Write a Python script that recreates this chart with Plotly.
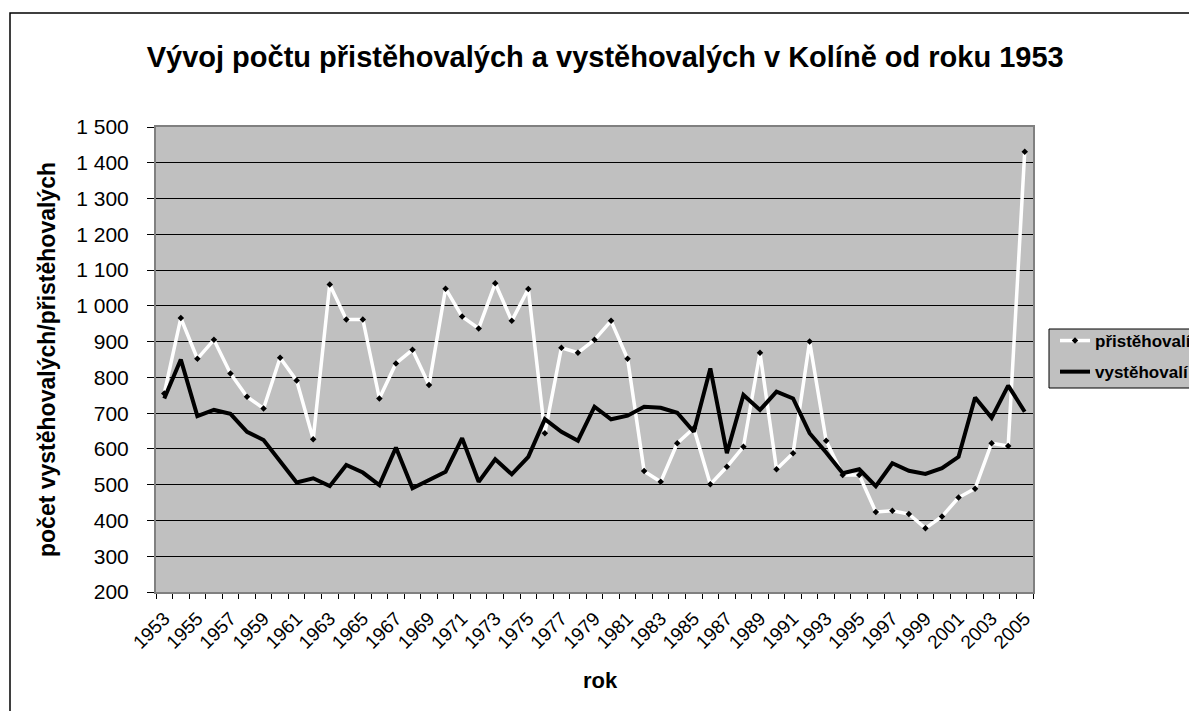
import plotly.graph_objects as go

years = [str(y) for y in range(1953, 2006)]
pristehovali = [755, 966, 852, 905, 811, 746, 713, 855, 791, 627,
                1060, 962, 962, 741, 839, 877, 779, 1048, 970, 937,
                1063, 958, 1047, 644, 883, 869, 905, 958, 852, 538,
                508, 616, 658, 501, 550, 606, 869, 543, 588, 900,
                623, 527, 527, 424, 427, 418, 378, 411, 464, 489,
                616, 608, 1431]
vystehovali = [741, 850, 692, 709, 698, 648, 625, 564, 506, 518,
               496, 555, 534, 499, 604, 490, 513, 536, 630, 508,
               571, 529, 578, 683, 648, 623, 718, 683, 693, 718,
               715, 701, 648, 825, 588, 751, 709, 760, 741, 644,
               590, 532, 543, 496, 560, 539, 530, 546, 578, 744,
               687, 777, 704]
y_ticks = list(range(200, 1600, 100))
y_ticktext = [f"{v:,}".replace(",", " ") for v in y_ticks]
x_ticktext = [y if (int(y) - 1953) % 2 == 0 else "" for y in years]

FONT = "Liberation Sans, Arial, sans-serif"

fig = go.Figure()
fig.add_trace(go.Scatter(
    x=years, y=pristehovali, name="přistěhovalí", mode="lines+markers",
    legendgroup="a",
    line=dict(color="white", width=3.5),
    marker=dict(symbol="diamond", size=5, color="black"),
))
fig.add_trace(go.Scatter(
    x=years, y=vystehovali, name="vystěhovalí", mode="lines",
    legendgroup="b",
    line=dict(color="black", width=4),
))

L, R, T, B = 156, 1189 - 1033, 127, 711 - 592
W, H = 1189 - L - R, 711 - T - B

def px(xp):
    return (xp - L) / W

def py(yp):
    return (711 - B - yp) / H

fig.update_layout(
    width=1189, height=711,
    margin=dict(l=L, r=R, t=T, b=B, autoexpand=False),
    paper_bgcolor="white",
    plot_bgcolor="#C0C0C0",
    font=dict(family=FONT, color="black"),
    title=dict(
        text="<b>Vývoj počtu přistěhovalých a vystěhovalých v Kolíně od roku 1953</b>",
        x=0.509, xref="container", xanchor="center",
        y=1 - 57 / 711, yref="container", yanchor="middle",
        font=dict(size=29, family=FONT, color="black"),
    ),
    showlegend=True,
    legend=dict(
        x=px(1055), y=py(323), xanchor="left", yanchor="top",
        bgcolor="rgba(0,0,0,0)", borderwidth=0,
        font=dict(size=17, family=FONT, color="black", weight="bold"),
        tracegroupgap=6,
    ),
    xaxis=dict(
        type="category",
        tickmode="array", tickvals=years, ticktext=x_ticktext,
        tickangle=-45, tickson="boundaries",
        ticks="outside", ticklen=5, tickcolor="black",
        tickfont=dict(size=19, family=FONT, color="black"),
        ticklabelstandoff=6,
        showgrid=False, zeroline=False,
        showline=True, linecolor="#808080", linewidth=2, mirror=True,
        range=[-0.5, len(years) - 0.5],
    ),
    yaxis=dict(
        range=[200, 1500],
        tickmode="array", tickvals=y_ticks, ticktext=y_ticktext,
        ticks="outside", ticklen=7, tickcolor="black",
        tickfont=dict(size=21, family=FONT, color="black"),
        ticklabelstandoff=14,
        showgrid=True, gridcolor="black", gridwidth=1,
        zeroline=False,
        showline=True, linecolor="#808080", linewidth=2, mirror=True,
    ),
    annotations=[
        dict(text="<b>počet vystěhovalých/přistěhovalých</b>",
             x=px(47), y=py(360), xref="paper", yref="paper",
             xanchor="center", yanchor="middle", textangle=-90,
             showarrow=False, font=dict(size=23, family=FONT, color="black")),
        dict(text="<b>rok</b>",
             x=px(600), y=py(680), xref="paper", yref="paper",
             xanchor="center", yanchor="middle",
             showarrow=False, font=dict(size=22, family=FONT, color="black")),
    ],
    shapes=[
        dict(type="rect", xref="paper", yref="paper",
             x0=px(10), x1=px(1195), y0=py(717), y1=py(13),
             line=dict(color="black", width=1.5), layer="below"),
        dict(type="rect", xref="paper", yref="paper",
             x0=px(1049), x1=px(1200), y0=py(388), y1=py(329),
             fillcolor="#C0C0C0", line=dict(color="black", width=1),
             layer="below"),
    ],
)

fig.write_html("out.html", config={"displayModeBar": False},
               post_script="document.body.style.margin='0';document.body.style.overflow='hidden';")
